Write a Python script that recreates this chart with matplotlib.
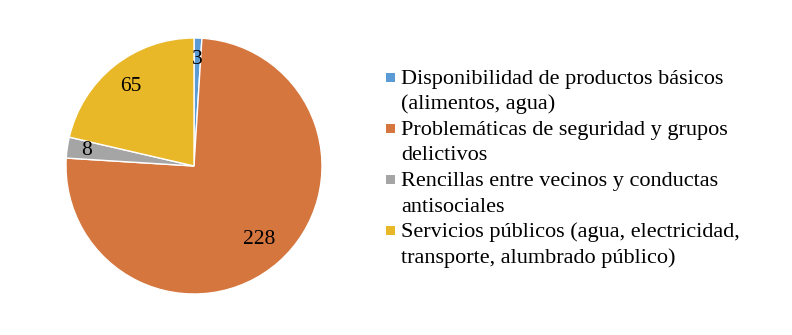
import matplotlib
matplotlib.use("Agg")
import matplotlib.pyplot as plt
from matplotlib.patches import Rectangle
import numpy as np

plt.rcParams['font.family'] = ['Liberation Serif', 'DejaVu Serif']

categories = [
    "Disponibilidad de productos básicos\n(alimentos, agua)",
    "Problemáticas de seguridad y grupos\ndelictivos",
    "Rencillas entre vecinos y conductas\nantisociales",
    "Servicios públicos (agua, electricidad,\ntransporte, alumbrado público)",
]
values = [3, 228, 8, 65]
colors = ["#5B9BD5", "#D5763E", "#A5A5A5", "#E8B828"]
label_dist = [0.83, 0.77, 0.85, 0.79]

W, H = 792, 335
FS_PIE = 15.5
FS_LEG = 16
fig = plt.figure(figsize=(W / 100, H / 100), dpi=100)
ax = fig.add_axes([66 / W, 41 / H, 256 / W, 256 / H])
wedges, _ = ax.pie(values, colors=colors, startangle=90, counterclock=False,
                   radius=1, wedgeprops=dict(edgecolor="white", linewidth=1))
for w, v, d in zip(wedges, values, label_dist):
    ang = np.deg2rad((w.theta1 + w.theta2) / 2)
    ax.text(d * np.cos(ang), d * np.sin(ang), str(v), ha="center", va="center",
            fontsize=FS_PIE, color="black")
ax.set_xlim(-1, 1)
ax.set_ylim(-1, 1)
ax.set_aspect("equal")
ax.axis("off")

# legend drawn by hand (square aligned with first line of each entry)
entry_pitch = 51
line_pitch = 25.5
for i, (lab, c) in enumerate(zip(categories, colors)):
    top = 73 + entry_pitch * i
    fig.add_artist(Rectangle((386 / W, 1 - (top + 9) / H), 9 / W, 9 / H,
                             transform=fig.transFigure, facecolor=c, edgecolor="none"))
    for k, line in enumerate(lab.split("\n")):
        yb = 84 + entry_pitch * i + line_pitch * k
        fig.text(401 / W, 1 - yb / H, line, fontsize=FS_LEG, ha="left", va="baseline",
                 color="black")

fig.savefig("out.png", dpi=100)
